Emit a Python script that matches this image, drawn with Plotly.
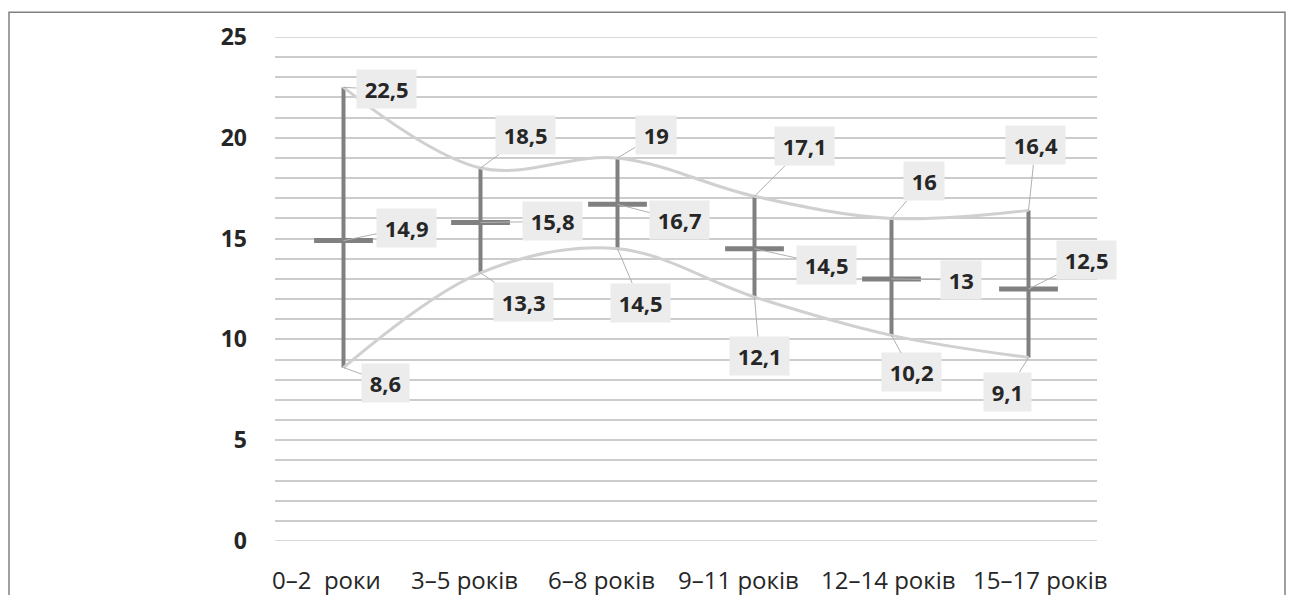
import plotly.graph_objects as go

categories = ["0–2  роки", "3–5 років", "6–8 років", "9–11 років", "12–14 років", "15–17 років"]
high_vals = [22.5, 18.5, 19, 17.1, 16, 16.4]
low_vals = [8.6, 13.3, 14.5, 12.1, 10.2, 9.1]
mean_vals = [14.9, 15.8, 16.7, 14.5, 13, 12.5]
y_ticks = [0, 5, 10, 15, 20, 25]

# label offsets (pixels) for the data labels
high_off = [(43, 2), (45, -33), (38, -23), (50, -50), (32, -37), (7, -65)]
low_off = [(42, 15), (43, 29), (23, 54), (5, 59), (20, 37), (-21, 34)]
mean_off = [(63, -13), (72, -1), (62, 16), (72, 16), (69, 1), (58, -29)]
# horizontal shift (pixels) of the category labels
cat_shift = [-17, -16, -16, -16, -4, 11]

xs = list(range(len(categories)))

def fmt(v):
    return ("%g" % v).replace(".", ",")

fig = go.Figure()

# vertical range bars
bx, by = [], []
for i in xs:
    bx += [i, i, None]
    by += [low_vals[i], high_vals[i], None]
fig.add_trace(go.Scatter(x=bx, y=by, mode="lines", line=dict(color="#808080", width=4),
                         hoverinfo="skip", showlegend=False))

# smooth curves
fig.add_trace(go.Scatter(x=xs, y=high_vals, mode="lines",
                         line=dict(color="#d0d0d0", width=3, shape="spline", smoothing=1),
                         showlegend=False))
fig.add_trace(go.Scatter(x=xs, y=low_vals, mode="lines",
                         line=dict(color="#d0d0d0", width=3, shape="spline", smoothing=1),
                         showlegend=False))

# mean ticks
fig.add_trace(go.Scatter(x=xs, y=mean_vals, mode="markers",
                         marker=dict(symbol="line-ew", size=42,
                                     line=dict(color="#808080", width=5)),
                         showlegend=False))

annotations = []
def add_labels(vals, offs):
    for i, v in enumerate(vals):
        annotations.append(dict(
            x=i, y=v, xref="x", yref="y", text="\u2009" + fmt(v) + "\u2009",
            showarrow=True, arrowhead=0, arrowwidth=1, arrowcolor="#b0b0b0",
            ax=offs[i][0], ay=offs[i][1], standoff=0,
            bgcolor="#ececec", borderpad=4,
            font=dict(family="Open Sans", size=22, color="#262626", weight="bold"),
        ))
add_labels(high_vals, high_off)
add_labels(low_vals, low_off)
add_labels(mean_vals, mean_off)

for i, c in enumerate(categories):
    annotations.append(dict(
        x=i, y=0, xref="x", yref="paper", text=c, showarrow=False,
        xanchor="center", yanchor="middle", xshift=cat_shift[i], yshift=-38,
        font=dict(family="Open Sans", size=24, color="#262626"),
    ))

grid_edges = [dict(type="line", xref="paper", yref="y", x0=0, x1=1, y0=v, y1=v,
                   line=dict(color="#cccccc", width=1.5), layer="below")
              for v in (y_ticks[0], y_ticks[-1])]

fig.update_layout(
    width=1296, height=595,
    margin=dict(l=267, r=207, t=25, b=62),
    paper_bgcolor="white", plot_bgcolor="white",
    annotations=annotations,
    xaxis=dict(range=[-0.5, 5.5], tickvals=xs, showticklabels=False,
               showgrid=False, zeroline=False, showline=False, ticks=""),
    yaxis=dict(range=[0, 25], tickvals=y_ticks, showgrid=True, gridcolor="#cccccc", gridwidth=1.5,
               minor=dict(dtick=1, showgrid=True, gridcolor="#cccccc", gridwidth=1.5),
               zeroline=False, showline=False, ticks="", ticklabelstandoff=27,
               tickfont=dict(family="Open Sans", size=23, color="#262626", weight="bold")),
    shapes=[dict(type="rect", xref="paper", yref="paper",
                 x0=(9 - 275) / 822, x1=(1285 - 275) / 822,
                 y0=-0.2, y1=1 + (33 - 8) / 508,
                 line=dict(color="#808080", width=1.5), layer="below")] + grid_edges,
)

fig.write_html("out.html")
